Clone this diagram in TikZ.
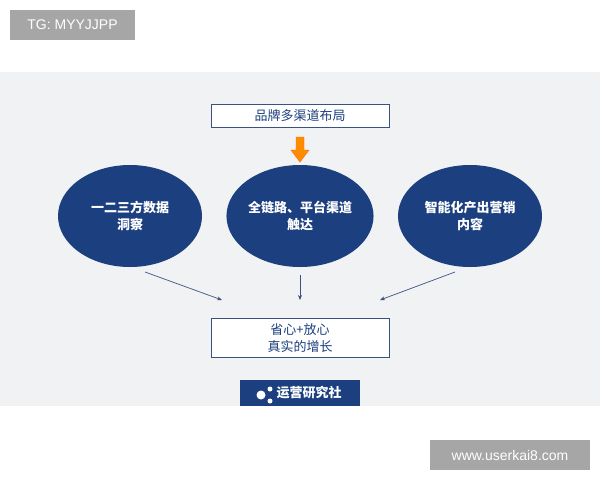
\documentclass[tikz,border=0pt]{standalone}
\usepackage{fontspec}
\setmainfont{Liberation Sans}
\newfontfamily\cjk{Noto Sans CJK SC}
\usetikzlibrary{arrows.meta,shapes.geometric}
\definecolor{navy}{HTML}{1C3F80}
\definecolor{band}{HTML}{F1F2F4}
\definecolor{tag}{HTML}{A6A6A6}
\tikzset{
 box/.style={draw=navy!70!gray,line width=0.8pt,fill=white,align=center,font=\cjk\fontsize{13}{17}\selectfont,text=navy},
 ell/.style={ellipse,fill=navy,inner sep=0,minimum width=144,minimum height=102,align=center,text=white,font=\cjk\bfseries\fontsize{13}{17}\selectfont},
 con/.style={draw=navy!70!gray,line width=0.7pt,-{Stealth[length=5pt,width=4pt]}},
 tagbox/.style={fill=tag,text=white,font=\fontsize{14}{16}\selectfont,inner sep=0}
}
\begin{document}
\begin{tikzpicture}[x=1pt,y=-1pt]
\useasboundingbox (0,0) rectangle (600,480);
\fill[white] (0,0) rectangle (600,480);
\fill[band] (0,72) rectangle (600,406);
\node[tagbox,minimum width=125,minimum height=30] (tg) at (72.5,25) {TG: MYYJJPP};
\node[tagbox,minimum width=160,minimum height=30] (web) at (510,455) {www.userkai8.com};
\node[box,minimum width=178,minimum height=23,inner sep=0] (top) at (300,116) {品牌多渠道布局};
\node[ell] (e1) at (130,216) {一二三方数据\\洞察};
\node[ell] (e2) at (300,216) {全链路、平台渠道\\触达};
\node[ell] (e3) at (470,216) {智能化产出营销\\内容};
\node[box,minimum width=178,minimum height=39,inner sep=0] (bot) at (300,338) {省心+放心\\真实的增长};
\coordinate (a1s) at (145,272); \coordinate (a1e) at (222,300);
\coordinate (a2s) at (300,275); \coordinate (a2e) at (300,300);
\coordinate (a3s) at (455,272); \coordinate (a3e) at (380,300);
\draw[con] (a1s) -- (a1e);
\draw[con] (a2s) -- (a2e);
\draw[con] (a3s) -- (a3e);
\fill[orange!90!yellow,draw=orange!80!red] (296,137) -- (304,137) -- (304,150) -- (309,150) -- (300,162) -- (291,150) -- (296,150) -- cycle;
\node[fill=navy,minimum width=120,minimum height=26,inner sep=0,text=white,font=\cjk\bfseries\fontsize{13}{15}\selectfont] (logo) at (300,393) {\hspace*{18pt}运营研究社};
\fill[white] (261,395) circle (4.5) (270,389) circle (2.5) (270,401) circle (2.5);
\end{tikzpicture}
\end{document}
